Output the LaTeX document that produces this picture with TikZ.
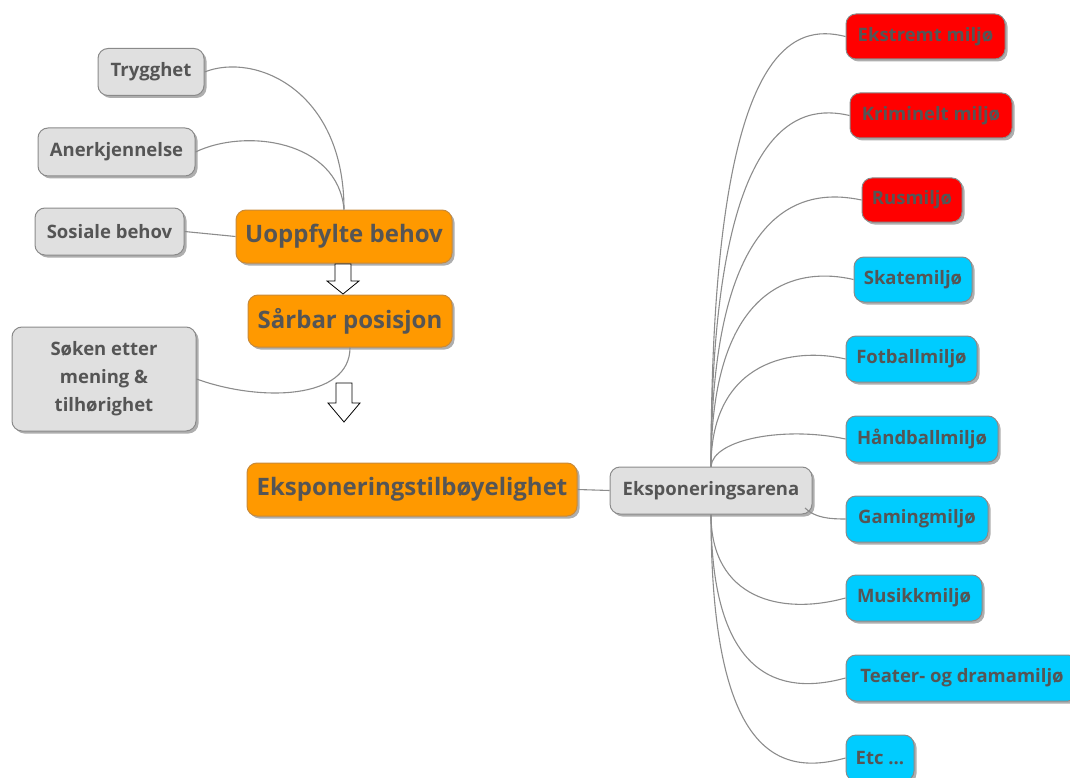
\documentclass[tikz,border=0pt]{standalone}
\usepackage{fontspec}
\setmainfont{Open Sans}
\usetikzlibrary{shadows}
\definecolor{txt}{HTML}{555555}
\definecolor{grayfill}{HTML}{E0E0E0}
\definecolor{grayedge}{HTML}{8A8A8A}
\definecolor{orangefill}{HTML}{FF9900}
\definecolor{orangeedge}{HTML}{C88A3A}
\definecolor{redfill}{HTML}{FF0000}
\definecolor{cyanfill}{HTML}{00CCFF}
\definecolor{linecol}{HTML}{8C8C8C}
\tikzset{
  box/.style={rounded corners=10pt, draw=grayedge, line width=1pt, text=txt,
    font=\bfseries\fontsize{18.5}{28}\selectfont, align=center, inner sep=0pt,
    drop shadow={shadow xshift=2.5pt, shadow yshift=-2.5pt, opacity=0.45, fill=black!70}},
  graybox/.style={box, fill=grayfill},
  orangebox/.style={box, fill=orangefill, draw=orangeedge, font=\bfseries\fontsize{24}{28}\selectfont},
  redbox/.style={box, fill=redfill},
  cyanbox/.style={box, fill=cyanfill},
  conn/.style={draw=linecol, line width=1.1pt},
  hollow/.style={draw=black, fill=white, line width=0.8pt, line join=miter},
}
\begin{document}
\begin{tikzpicture}[x=1pt,y=-1pt]
\useasboundingbox (0,0) rectangle (1070,778);
% left side
\node[graybox, minimum width=106pt, minimum height=47pt] (tryg) at (151,72) {Trygghet};
\node[graybox, minimum width=157pt, minimum height=48pt] (aner) at (116.5,152) {Anerkjennelse};
\node[graybox, minimum width=149pt, minimum height=47pt] (sos) at (109.5,231.5) {Sosiale behov};
\node[orangebox, minimum width=216pt, minimum height=53pt] (uopp) at (344,236.5) {Uoppfylte behov};
\node[orangebox, minimum width=204pt, minimum height=52pt] (sarb) at (350,321) {Sårbar posisjon};
\node[graybox, minimum width=184pt, minimum height=104pt] (soken) at (104,379) {Søken etter\\ mening \&\\ tilhørighet};
\node[orangebox, minimum width=330pt, minimum height=53pt] (ekst) at (412,489.5) {Eksponeringstilbøyelighet};
\node[graybox, minimum width=202pt, minimum height=47pt] (arena) at (711,490.5) {Eksponeringsarena};
% right side
\node[redbox, minimum width=159pt, minimum height=45pt] (e1) at (925.5,36.5) {Ekstremt miljø};
\node[redbox, minimum width=162pt, minimum height=45pt] (e2) at (931,115.5) {Kriminelt miljø};
\node[redbox, minimum width=100pt, minimum height=44pt] (e3) at (912,200) {Rusmiljø};
\node[cyanbox, minimum width=118pt, minimum height=45pt] (e4) at (913,279.5) {Skatemiljø};
\node[cyanbox, minimum width=131pt, minimum height=46pt] (e5) at (911.5,359) {Fotballmiljø};
\node[cyanbox, minimum width=152pt, minimum height=46pt] (e6) at (922,439) {Håndballmiljø};
\node[cyanbox, minimum width=142pt, minimum height=46pt] (e7) at (917,519) {Gamingmiljø};
\node[cyanbox, minimum width=136pt, minimum height=46pt] (e8) at (914,598) {Musikkmiljø};
\node[cyanbox, minimum width=232pt, minimum height=46pt] (e9) at (962,678) {Teater- og dramamiljø};
\node[cyanbox, minimum width=68pt, minimum height=46pt] (e10) at (880,758) {Etc ...};
% connectors left
\draw[conn] (tryg.east) .. controls (255,52) and (344,90) .. (uopp.north);
\draw[conn] (aner.east) .. controls (245,128) and (338,140) .. (uopp.north);
\draw[conn] (sos.east) -- (uopp.west);
\draw[conn] (soken.east) .. controls (260,402) and (350,400) .. (sarb.south);
\draw[conn] (ekst.east) -- (arena.west);
% connectors right, upper
\draw[conn] (arena.north) .. controls (711,36) and (795,24) .. (e1.west);
\draw[conn] (arena.north) .. controls (711,116) and (800,104) .. (e2.west);
\draw[conn] (arena.north) .. controls (711,200) and (805,188) .. (e3.west);
\draw[conn] (arena.north) .. controls (711,280) and (800,267) .. (e4.west);
\draw[conn] (arena.north) .. controls (711,359) and (795,347) .. (e5.west);
\draw[conn] (arena.north) .. controls (713,439) and (785,426) .. (e6.west);
% lower
\coordinate (arenaSE) at (805,508);
\draw[conn] (arenaSE) .. controls (815,518) and (830,519) .. (e7.west);
\draw[conn] (arena.south) .. controls (711,598) and (780,616) .. (e8.west);
\draw[conn] (arena.south) .. controls (711,678) and (780,696) .. (e9.west);
\draw[conn] (arena.south) .. controls (711,758) and (780,776) .. (e10.west);
% hollow arrows
\draw[hollow] (335,264) -- (351,264) -- (351,281) -- (359,281) -- (343,294) -- (327,281) -- (335,281) -- cycle;
\draw[hollow] (336,383) -- (352,383) -- (352,403) -- (360,403) -- (344,422) -- (328,403) -- (336,403) -- cycle;
\end{tikzpicture}
\end{document}
